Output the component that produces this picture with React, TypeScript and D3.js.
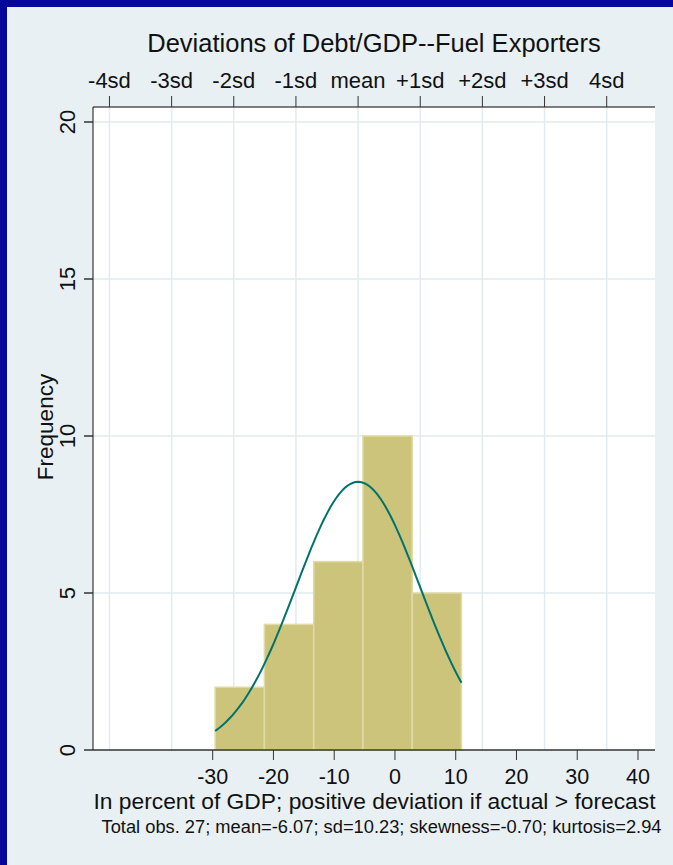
import React, {useEffect, useRef} from 'react'
import * as d3 from 'd3'

// histogram bins (lower edges, bin width, counts)
const binLower = [-29.6, -21.49, -13.38, -5.27, 2.84]
const binWidth = 8.11
const counts = [2, 4, 6, 10, 5]

// summary stats printed under the chart
const totalObs = 27
const mean = -6.07
const sd = 10.23
const skewness = -0.7
const kurtosis = 2.94

const sdLabels = ['-4sd', '-3sd', '-2sd', '-1sd', 'mean', '+1sd', '+2sd', '+3sd', '4sd']
const sdSteps = [-4, -3, -2, -1, 0, 1, 2, 3, 4]
const xTicks = [-30, -20, -10, 0, 10, 20, 30, 40]
const yTicks = [0, 5, 10, 15, 20]

const W = 673
const H = 865
const FONT = '"Liberation Sans", Arial, Helvetica, sans-serif'

export default function App() {
  const ref = useRef<SVGSVGElement>(null)

  useEffect(() => {
    const svg = d3.select(ref.current)
    svg.selectAll('*').remove()

    const left = 93
    const right = 655
    const top = 107
    const bottom = 750

    const x = d3.scaleLinear().domain([-49.7, 42.8]).range([left, right])
    const y = d3.scaleLinear().domain([0, 20]).range([bottom, 122])

    // background + blue frame
    svg.append('rect').attr('width', W).attr('height', H).attr('fill', '#06069a')
    svg.append('rect').attr('x', 7).attr('y', 7).attr('width', W - 7).attr('height', H - 7).attr('fill', '#e8f0f4')

    // plot region
    svg.append('rect')
      .attr('x', left).attr('y', top)
      .attr('width', right - left).attr('height', bottom - top)
      .attr('fill', '#ffffff')

    // grid
    const sdPos = sdSteps.map((k) => mean + k * sd)
    svg.append('g')
      .selectAll('line')
      .data(sdPos)
      .join('line')
      .attr('x1', (d) => x(d)).attr('x2', (d) => x(d))
      .attr('y1', top).attr('y2', bottom)
      .attr('stroke', '#e2ebf0').attr('stroke-width', 1.5)
    svg.append('g')
      .selectAll('line')
      .data(yTicks.filter((d) => d > 0))
      .join('line')
      .attr('x1', left).attr('x2', right)
      .attr('y1', (d) => y(d)).attr('y2', (d) => y(d))
      .attr('stroke', '#e2ebf0').attr('stroke-width', 1.5)

    // bars
    svg.append('g')
      .selectAll('rect')
      .data(counts)
      .join('rect')
      .attr('x', (d, i) => x(binLower[i]))
      .attr('y', (d) => y(d))
      .attr('width', x(binWidth) - x(0))
      .attr('height', (d) => y(0) - y(d))
      .attr('fill', '#cdc47c')
      .attr('stroke', '#e0dba6')
      .attr('stroke-width', 1.5)

    // normal curve scaled to frequency
    const lo = binLower[0]
    const hi = binLower[binLower.length - 1] + binWidth
    const scale = totalObs * binWidth
    const pts = d3.range(0, 101).map((i) => lo + ((hi - lo) * i) / 100)
    const line = d3.line<number>()
      .x((d) => x(d))
      .y((d) => y((scale / (sd * Math.sqrt(2 * Math.PI))) * Math.exp(-((d - mean) ** 2) / (2 * sd * sd))))
    svg.append('path')
      .attr('d', line(pts))
      .attr('fill', 'none')
      .attr('stroke', '#00736c')
      .attr('stroke-width', 2)

    // axes
    const axisColor = '#333333'
    svg.append('line').attr('x1', left).attr('x2', right).attr('y1', top).attr('y2', top)
      .attr('stroke', '#555555').attr('stroke-width', 1.5)
    svg.append('line').attr('x1', left).attr('x2', right).attr('y1', bottom).attr('y2', bottom)
      .attr('stroke', axisColor).attr('stroke-width', 1.5)
    svg.append('line').attr('x1', left).attr('x2', left).attr('y1', top).attr('y2', bottom)
      .attr('stroke', '#111111').attr('stroke-width', 1)

    // top sd axis
    svg.append('g')
      .selectAll('line')
      .data(sdPos)
      .join('line')
      .attr('x1', (d) => x(d)).attr('x2', (d) => x(d))
      .attr('y1', top - 11).attr('y2', top)
      .attr('stroke', axisColor).attr('stroke-width', 1)
    svg.append('g')
      .selectAll('text')
      .data(sdPos)
      .join('text')
      .attr('x', (d) => x(d)).attr('y', 88)
      .attr('text-anchor', 'middle')
      .attr('font-family', FONT).attr('font-size', 22)
      .attr('fill', '#111')
      .text((d, i) => sdLabels[i])

    // bottom x axis
    svg.append('g')
      .selectAll('line')
      .data(xTicks)
      .join('line')
      .attr('x1', (d) => x(d)).attr('x2', (d) => x(d))
      .attr('y1', bottom).attr('y2', bottom + 10)
      .attr('stroke', axisColor).attr('stroke-width', 1)
    svg.append('g')
      .selectAll('text')
      .data(xTicks)
      .join('text')
      .attr('x', (d) => x(d)).attr('y', 784)
      .attr('text-anchor', 'middle')
      .attr('font-family', FONT).attr('font-size', 21.5)
      .attr('fill', '#111')
      .text((d) => String(d))

    // y axis
    svg.append('g')
      .selectAll('line')
      .data(yTicks)
      .join('line')
      .attr('x1', left - 9).attr('x2', left)
      .attr('y1', (d) => y(d)).attr('y2', (d) => y(d))
      .attr('stroke', axisColor).attr('stroke-width', 1.5)
    svg.append('g')
      .selectAll('text')
      .data(yTicks)
      .join('text')
      .attr('transform', (d) => `translate(75,${y(d)}) rotate(-90)`)
      .attr('text-anchor', 'middle')
      .attr('font-family', FONT).attr('font-size', 22)
      .attr('fill', '#111')
      .text((d) => String(d))

    svg.append('text')
      .attr('transform', `translate(53,427) rotate(-90)`)
      .attr('text-anchor', 'middle')
      .attr('font-family', FONT).attr('font-size', 22.5)
      .attr('fill', '#111')
      .text('Frequency')

    // titles
    svg.append('text')
      .attr('x', 374).attr('y', 52)
      .attr('text-anchor', 'middle')
      .attr('font-family', FONT).attr('font-size', 25.5)
      .attr('fill', '#111')
      .text('Deviations of Debt/GDP--Fuel Exporters')
    svg.append('text')
      .attr('x', 374.5).attr('y', 809)
      .attr('text-anchor', 'middle')
      .attr('font-family', FONT).attr('font-size', 22.8)
      .attr('fill', '#111')
      .text('In percent of GDP; positive deviation if actual > forecast')
    svg.append('text')
      .attr('x', 381.5).attr('y', 833)
      .attr('text-anchor', 'middle')
      .attr('font-family', FONT).attr('font-size', 18.3)
      .attr('fill', '#111')
      .text(`Total obs. ${totalObs}; mean=${mean.toFixed(2)}; sd=${sd.toFixed(2)}; skewness=${skewness.toFixed(2)}; kurtosis=${kurtosis.toFixed(2)}`)
  }, [])

  return (
    <svg
      ref={ref}
      width={W}
      height={H}
      style={{position: 'absolute', left: 0, top: 0, display: 'block'}}
    />
  )
}
